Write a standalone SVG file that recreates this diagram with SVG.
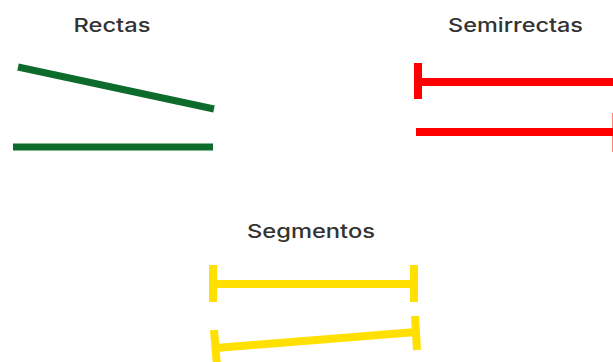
<svg xmlns="http://www.w3.org/2000/svg" width="613" height="362" viewBox="0 0 613 362">
<style>
.t{font-family:Inter,"Open Sans","Liberation Sans",sans-serif;font-size:19px;font-weight:500;fill:#333}
.g{stroke:#0d6b2c;stroke-width:7;fill:none}
.r{stroke:#ff0000;stroke-width:8;fill:none}
.y{stroke:#ffe000;stroke-width:8;fill:none}
</style>
<rect width="613" height="362" fill="#fff"/>
<g id="rectas">
<text class="t" x="112" y="32" text-anchor="middle" textLength="77" lengthAdjust="spacingAndGlyphs">Rectas</text>
<line class="g" x1="18" y1="67" x2="214" y2="109"/>
<line class="g" x1="13" y1="147" x2="213" y2="147"/>
</g>
<g id="semirrectas">
<text class="t" x="515.5" y="32" text-anchor="middle" textLength="135" lengthAdjust="spacingAndGlyphs">Semirrectas</text>
<line class="r" x1="418" y1="63" x2="418" y2="99"/>
<line class="r" x1="418" y1="82" x2="613" y2="82"/>
<line class="r" x1="416" y1="132" x2="613" y2="132"/>
<line class="r" x1="616.5" y1="113" x2="616.5" y2="152"/>
</g>
<g id="segmentos">
<text class="t" x="311" y="238" text-anchor="middle" textLength="128" lengthAdjust="spacingAndGlyphs">Segmentos</text>
<line class="y" x1="213" y1="265" x2="213" y2="302"/>
<line class="y" x1="414" y1="265" x2="414" y2="302"/>
<line class="y" x1="213" y1="284" x2="414" y2="284"/>
<line class="y" x1="214" y1="330" x2="217" y2="366"/>
<line class="y" x1="415" y1="316" x2="417" y2="350"/>
<line class="y" x1="216" y1="348" x2="416" y2="332"/>
</g>
</svg>
